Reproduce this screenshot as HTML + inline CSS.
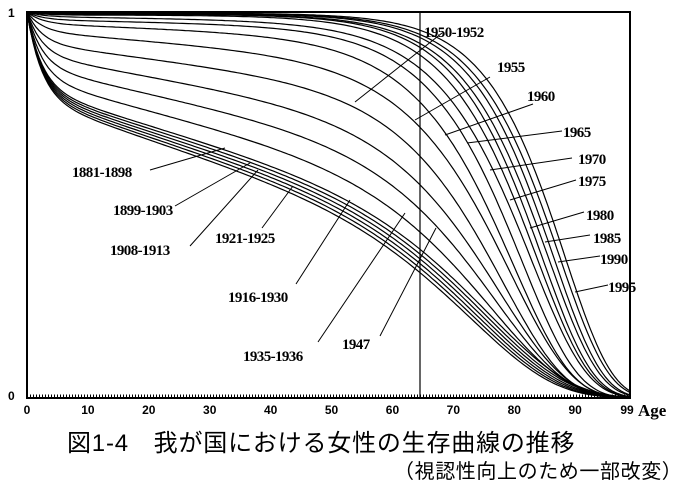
<!DOCTYPE html>
<html><head><meta charset="utf-8"><style>
html,body{margin:0;padding:0;background:#fff;}
body{width:689px;height:496px;overflow:hidden;position:relative;}
svg{position:absolute;left:0;top:0;}
.t{position:absolute;font-family:"Liberation Sans","Noto Sans CJK JP",sans-serif;color:#000;white-space:nowrap;}
</style></head><body>
<svg id="s" width="689" height="496" xmlns="http://www.w3.org/2000/svg">
<g font-family="Liberation Serif,serif" font-weight="bold" font-size="15" fill="#000" letter-spacing="-0.6">
<text x="424" y="37">1950-1952</text>
<text x="497" y="72">1955</text>
<text x="527" y="101">1960</text>
<text x="563" y="137">1965</text>
<text x="578" y="164">1970</text>
<text x="578" y="186">1975</text>
<text x="586" y="220">1980</text>
<text x="593" y="243">1985</text>
<text x="600" y="264">1990</text>
<text x="608" y="292">1995</text>
<text x="72" y="177">1881-1898</text>
<text x="113" y="215">1899-1903</text>
<text x="110" y="255">1908-1913</text>
<text x="215" y="243">1921-1925</text>
<text x="228" y="302">1916-1930</text>
<text x="243" y="361">1935-1936</text>
<text x="342" y="349">1947</text>
</g>
<g font-family="Liberation Sans,sans-serif" font-weight="bold" font-size="12" fill="#000" text-anchor="middle" id="xt"></g>
<text x="8" y="17" font-family="Liberation Sans,sans-serif" font-weight="bold" font-size="12">1</text>
<text x="8" y="400" font-family="Liberation Sans,sans-serif" font-weight="bold" font-size="12">0</text>
<text x="638" y="416" font-family="Liberation Serif,serif" font-weight="bold" font-size="17">Age</text>
<g id="c" fill="none" stroke="#000" stroke-width="1.2"></g>
<g stroke="#000" stroke-width="1" id="ld"></g>
<rect x="27" y="12" width="603" height="386" fill="none" stroke="#000" stroke-width="2"/>
<line x1="420" y1="12" x2="420" y2="398" stroke="#000" stroke-width="1.2"/>
<line x1="27" y1="396" x2="630" y2="396" stroke="#000" stroke-width="3" stroke-dasharray="1 2"/>
</svg>
<div class="t" style="left:67px;top:423px;font-size:24px;letter-spacing:0.8px;">図1-4　我が国における女性の生存曲線の推移</div>
<div class="t" style="left:394px;top:455px;font-size:20px;letter-spacing:0.6px;">（視認性向上のため一部改変）</div>
<script>
var NS="http://www.w3.org/2000/svg";
function X(a){return 27+a*603/99;}
function Y(s){return 398-386*s;}
var curves=[
[0.22,0.0072,0.08,71],[0.215,0.007,0.08,71.5],[0.21,0.0068,0.08,72],[0.205,0.0066,0.08,72.5],[0.2,0.0064,0.08,73],[0.195,0.0062,0.08,73.5],
[0.17,0.0052,0.085,73.5],[0.14,0.0042,0.09,74],[0.11,0.0032,0.094,74.5],[0.08,0.0022,0.1,75],[0.05,0.0013,0.1,76],
[0.03,0.0006,0.105,76.5],[0.02,0.0003,0.11,78],[0.012,0.0002,0.11,79.5],[0.008,0,0.115,80.5],[0.006,0,0.12,81.5],
[0.005,0,0.12,82.5],[0.004,0,0.125,83.5],[0.003,0,0.125,84.5],[0.003,0,0.13,85.5]];
var g=document.getElementById("c");
curves.forEach(function(c){
var d="";
for(var a=0;a<=99;a+=0.5){
var I=1-c[0]*(1-Math.exp(-a/2.5));
var B=Math.exp(-c[1]*a);
var G=Math.exp(-Math.LN2*(Math.exp(c[2]*a)-1)/(Math.exp(c[2]*c[3])-1));
var s=I*B*G;
d+=(a?"L":"M")+X(a).toFixed(1)+","+Y(s).toFixed(1);}
var p=document.createElementNS(NS,"path");p.setAttribute("d",d);g.appendChild(p);});
var L=[[442,33,355,102],[490,77,415,120],[533,104,445,135],[562,131,467,143],[572,158,490,170],[576,180,510,200],[584,212,530,228],[590,235,545,242],[600,256,558,262],[608,285,575,292],
[150,170,225,148],[175,206,250,163],[190,246,258,170],[262,228,293,186],[296,284,350,200],[318,342,405,213],[380,336,436,228]];
var ld=document.getElementById("ld");
L.forEach(function(l){var e=document.createElementNS(NS,"line");e.setAttribute("x1",l[0]);e.setAttribute("y1",l[1]);e.setAttribute("x2",l[2]);e.setAttribute("y2",l[3]);ld.appendChild(e);});
var xt=document.getElementById("xt");
[0,10,20,30,40,50,60,70,80,90,99].forEach(function(v){var t=document.createElementNS(NS,"text");t.setAttribute("x",v==99?X(v)-3:X(v));t.setAttribute("y",414);t.textContent=v;xt.appendChild(t);});
</script>
</body></html>
